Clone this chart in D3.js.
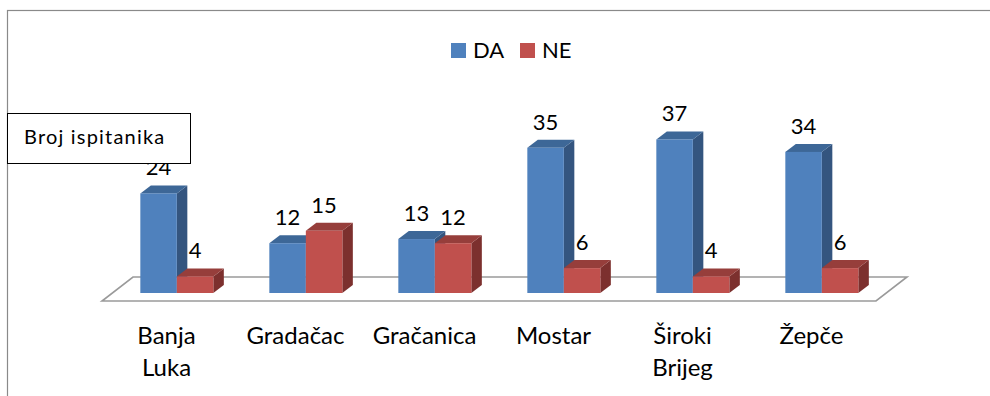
<!DOCTYPE html>
<html>
<head>
<meta charset="utf-8">
<script src="https://cdn.jsdelivr.net/npm/d3@7"></script>
<style>
  html, body { margin: 0; padding: 0; background: #fff; }
  svg { display: block; font-family: Lato, "Open Sans", sans-serif; }
</style>
</head>
<body>
<svg id="chart" width="990" height="396"></svg>
<script>
// Survey answers per town
const categories = ["Banja Luka", "Gradačac", "Gračanica", "Mostar", "Široki Brijeg", "Žepče"];
const seriesNames = ["DA", "NE"];
const daValues = [24, 12, 13, 35, 37, 34];
const neValues = [4, 15, 12, 6, 4, 6];
const boxLabel = "Broj ispitanika";

const colors = {
  DA: { front: "#4F81BD", top: "#3D6797", side: "#34557F" },
  NE: { front: "#C0504D", top: "#963E3B", side: "#7C302E" }
};

const svg = d3.select("#chart");

// outer frame (only top and left edges fall inside the view)
svg.append("rect")
  .attr("x", 7.5).attr("y", 10.5)
  .attr("width", 1100).attr("height", 500)
  .attr("fill", "none").attr("stroke", "#8a8a8a").attr("stroke-width", 1.2);

// 3D geometry
const floorFrontY = 301, floorDepthX = 31, floorDepthY = 24;
const barBaseY = 293;                  // front plane of the bars
const barShiftX = (floorFrontY - barBaseY) * floorDepthX / floorDepthY;
const barDX = 10.5, barDY = 8;         // bar depth offset

const floorLeft = 102, floorRight = 876;

const x0 = d3.scaleBand()
  .domain(categories)
  .range([floorLeft + barShiftX, floorRight + barShiftX])
  .paddingInner(0.434).paddingOuter(0.217);

const x1 = d3.scaleBand().domain(seriesNames).range([0, x0.bandwidth()]);

const y = d3.scaleLinear().domain([0, 40]).range([barBaseY, barBaseY - 166]);

// floor
svg.append("polygon")
  .attr("points", [
    [floorLeft, floorFrontY],
    [floorRight, floorFrontY],
    [floorRight + floorDepthX, floorFrontY - floorDepthY],
    [floorLeft + floorDepthX, floorFrontY - floorDepthY]
  ].map(p => p.join(",")).join(" "))
  .attr("fill", "#fff").attr("stroke", "#9a9a9a").attr("stroke-width", 1.6)
  .attr("stroke-linejoin", "miter");

// bars
const bars = [];
categories.forEach((c, i) => {
  bars.push({ cat: c, s: "DA", v: daValues[i] });
  bars.push({ cat: c, s: "NE", v: neValues[i] });
});

const g = svg.append("g");
bars.forEach(b => {
  const x = x0(b.cat) + x1(b.s), w = x1.bandwidth();
  const yt = y(b.v), yb = y(0);
  const col = colors[b.s];
  const bg = g.append("g");
  bg.append("polygon")
    .attr("points", [[x + w, yt], [x + w + barDX, yt - barDY], [x + w + barDX, yb - barDY], [x + w, yb]].map(p => p.join(",")).join(" "))
    .attr("fill", col.side);
  bg.append("polygon")
    .attr("points", [[x, yt], [x + barDX, yt - barDY], [x + w + barDX, yt - barDY], [x + w, yt]].map(p => p.join(",")).join(" "))
    .attr("fill", col.top);
  bg.append("rect")
    .attr("x", x).attr("y", yt).attr("width", w).attr("height", yb - yt)
    .attr("fill", col.front);
});

// value labels
svg.append("g").selectAll("text").data(bars).join("text")
  .attr("x", d => x0(d.cat) + x1(d.s) + x1.bandwidth() / 2)
  .attr("y", d => y(d.v) - barDY - 10)
  .attr("text-anchor", "middle")
  .attr("font-size", 22)
  .attr("fill", "#000")
  .text(d => d.v);

// category labels (wrapped on spaces)
const catG = svg.append("g");
categories.forEach(c => {
  const cx = x0(c) - barShiftX + x0.bandwidth() / 2;
  const t = catG.append("text")
    .attr("text-anchor", "middle").attr("font-size", 24).attr("fill", "#000");
  c.split(" ").forEach((word, k) => {
    t.append("tspan").attr("x", cx).attr("y", 344 + k * 32).text(word);
  });
});

// legend
const legend = svg.append("g");
const legendX = [451, 520];
seriesNames.forEach((s, i) => {
  legend.append("rect")
    .attr("x", legendX[i]).attr("y", 43).attr("width", 15).attr("height", 15)
    .attr("fill", colors[s].front);
  legend.append("text")
    .attr("x", legendX[i] + 22).attr("y", 57.5)
    .attr("font-size", 22).attr("fill", "#000")
    .text(s);
});

// axis title box
svg.append("rect")
  .attr("x", 7.5).attr("y", 113.5).attr("width", 183).attr("height", 50)
  .attr("fill", "#fff").attr("stroke", "#000").attr("stroke-width", 1);
svg.append("text")
  .attr("x", 24).attr("y", 144)
  .attr("font-size", 20).attr("letter-spacing", 1.2).attr("fill", "#000")
  .text(boxLabel);
</script>
</body>
</html>
